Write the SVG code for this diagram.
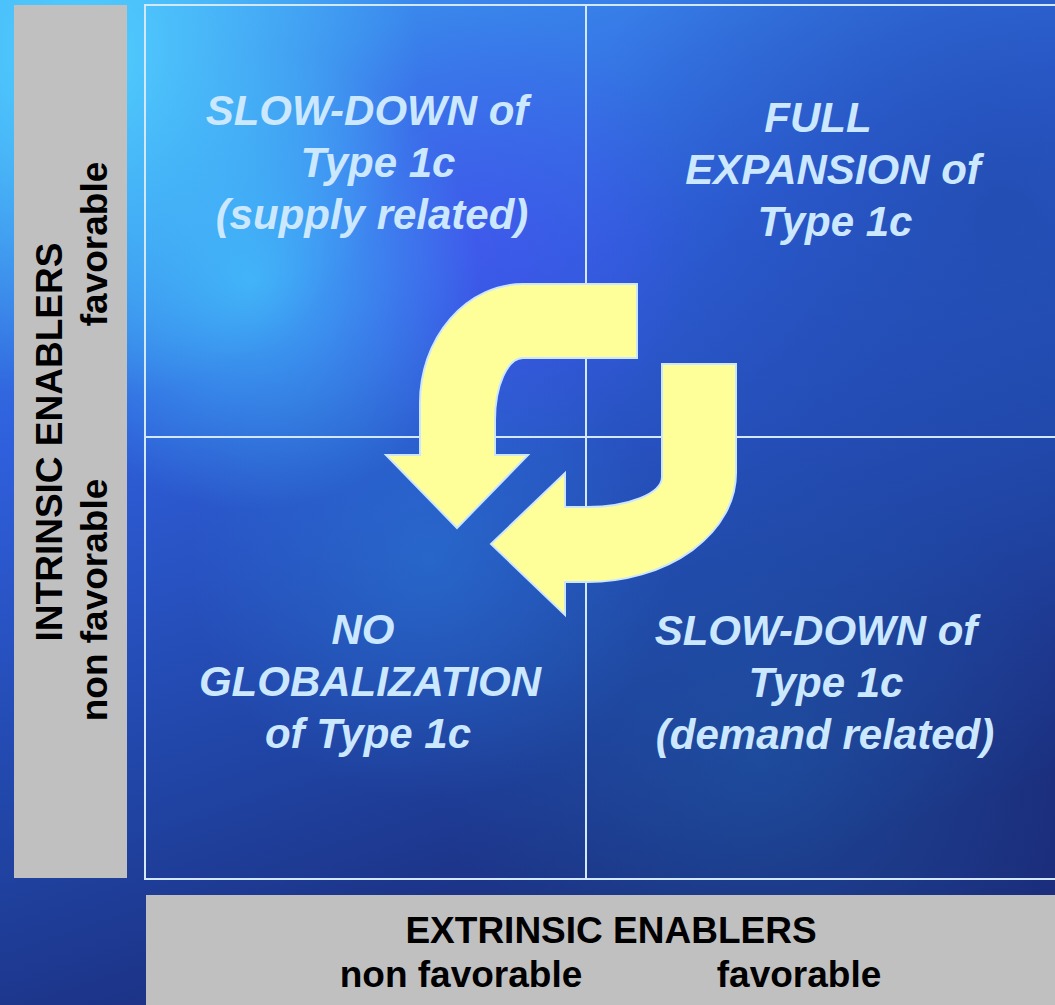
<svg xmlns="http://www.w3.org/2000/svg" width="1055" height="1005" viewBox="0 0 1055 1005">
  <defs>
    <linearGradient id="bgBase" x1="0" y1="0" x2="0.35" y2="1">
      <stop offset="0" stop-color="#3f9af4"/>
      <stop offset="0.4" stop-color="#2f5fdc"/>
      <stop offset="0.75" stop-color="#2044a4"/>
      <stop offset="1" stop-color="#1b2d7c"/>
    </linearGradient>
    <radialGradient id="glowTL" cx="80" cy="60" r="340" gradientUnits="userSpaceOnUse">
      <stop offset="0" stop-color="#52d4ff" stop-opacity="0.95"/>
      <stop offset="1" stop-color="#52d4ff" stop-opacity="0"/>
    </radialGradient>
    <radialGradient id="glowCyan" cx="250" cy="280" r="230" gradientUnits="userSpaceOnUse">
      <stop offset="0" stop-color="#45c6ff" stop-opacity="0.75"/>
      <stop offset="1" stop-color="#45c6ff" stop-opacity="0"/>
    </radialGradient>
    <radialGradient id="glowViolet" cx="470" cy="240" r="230" gradientUnits="userSpaceOnUse">
      <stop offset="0" stop-color="#4a50f5" stop-opacity="0.55"/>
      <stop offset="1" stop-color="#4a50f5" stop-opacity="0"/>
    </radialGradient>
    <radialGradient id="darkTR" cx="1000" cy="200" r="420" gradientUnits="userSpaceOnUse">
      <stop offset="0" stop-color="#1f4aa8" stop-opacity="0.7"/>
      <stop offset="1" stop-color="#1f4aa8" stop-opacity="0"/>
    </radialGradient>
    <radialGradient id="tealBR" cx="760" cy="760" r="320" gradientUnits="userSpaceOnUse">
      <stop offset="0" stop-color="#1f5caa" stop-opacity="0.55"/>
      <stop offset="1" stop-color="#1f5caa" stop-opacity="0"/>
    </radialGradient>
    <radialGradient id="blueMid" cx="430" cy="560" r="240" gradientUnits="userSpaceOnUse">
      <stop offset="0" stop-color="#2a7ad8" stop-opacity="0.55"/>
      <stop offset="1" stop-color="#2a7ad8" stop-opacity="0"/>
    </radialGradient>
    <style>
      .quad { font-family: "Liberation Sans", Arial, sans-serif; font-size: 42px; font-weight: bold; font-style: italic; fill: #cce8ff; text-anchor: middle; }
      .axis { font-family: "Liberation Sans", Arial, sans-serif; font-size: 37px; font-weight: bold; fill: #000000; text-anchor: middle; }
      .panel { fill: #c0c0c0; }
      .grid { fill: none; stroke: #d2e8ff; stroke-width: 2; }
      .arrow { fill: #ffff99; stroke: #cce6ff; stroke-width: 2; stroke-linejoin: miter; }
    </style>
  </defs>

  <g id="background">
    <rect x="0" y="0" width="1055" height="1005" fill="url(#bgBase)"/>
    <rect x="0" y="0" width="1055" height="1005" fill="url(#darkTR)"/>
    <rect x="0" y="0" width="1055" height="1005" fill="url(#tealBR)"/>
    <rect x="0" y="0" width="1055" height="1005" fill="url(#blueMid)"/>
    <rect x="0" y="0" width="1055" height="1005" fill="url(#glowViolet)"/>
    <rect x="0" y="0" width="1055" height="1005" fill="url(#glowTL)"/>
    <rect x="0" y="0" width="1055" height="1005" fill="url(#glowCyan)"/>
  </g>

  <g id="grid">
    <rect class="grid" x="145" y="5" width="930" height="874"/>
    <line class="grid" x1="586" y1="5" x2="586" y2="879"/>
    <line class="grid" x1="145" y1="437" x2="1075" y2="437"/>
  </g>

  <g id="intrinsic-axis">
    <rect class="panel" x="14" y="5" width="113" height="873"/>
    <text class="axis" transform="translate(62,442) rotate(-90)">INTRINSIC ENABLERS</text>
    <text class="axis" transform="translate(107,600) rotate(-90)">non favorable</text>
    <text class="axis" transform="translate(107,244) rotate(-90)">favorable</text>
  </g>

  <g id="extrinsic-axis">
    <rect class="panel" x="146" y="895" width="920" height="120"/>
    <text class="axis" x="611" y="943">EXTRINSIC ENABLERS</text>
    <text class="axis" x="461" y="987">non favorable</text>
    <text class="axis" x="799" y="987">favorable</text>
  </g>

  <g id="quadrant-top-left">
    <text class="quad" x="367" y="125">SLOW-DOWN of</text>
    <text class="quad" x="378" y="177">Type 1c</text>
    <text class="quad" x="372" y="229">(supply related)</text>
  </g>

  <g id="quadrant-top-right">
    <text class="quad" x="818" y="132">FULL</text>
    <text class="quad" x="833" y="184">EXPANSION of</text>
    <text class="quad" x="835" y="236">Type 1c</text>
  </g>

  <g id="quadrant-bottom-left">
    <text class="quad" x="363" y="644">NO</text>
    <text class="quad" x="370" y="696">GLOBALIZATION</text>
    <text class="quad" x="368" y="748">of Type 1c</text>
  </g>

  <g id="quadrant-bottom-right">
    <text class="quad" x="816" y="645">SLOW-DOWN of</text>
    <text class="quad" x="826" y="697">Type 1c</text>
    <text class="quad" x="825" y="749">(demand related)</text>
  </g>

  <g id="connectors">
    <path class="arrow" d="M637,284 L637,358 L523,358 A28,62 0 0 0 495,420 L495,455 L528,455 L457,528 L386,455 L420,455 L420,403 A103,119 0 0 1 523,284 Z"/>
    <path class="arrow" d="M662,364 L736,364 L736,473 A149,109 0 0 1 587,582 L565,582 L565,615 L491,544 L565,473 L565,507 L587,507 A75,30 0 0 0 662,477 Z"/>
  </g>
</svg>
